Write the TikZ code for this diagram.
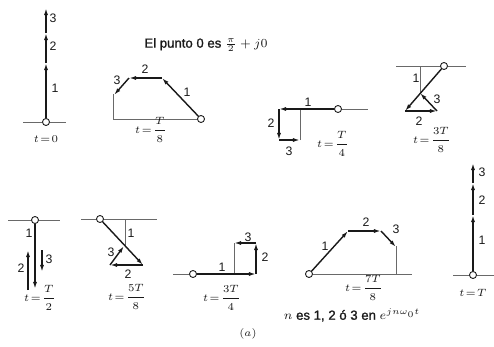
\documentclass[tikz,border=0pt]{standalone}
\usepackage{amsmath}
\usepackage{fontspec}
\setmainfont{Liberation Sans}
\newfontfamily\notefont[FakeBold=1.2]{Liberation Sans}
\usetikzlibrary{arrows.meta,positioning}
\definecolor{inkDark}{RGB}{25,25,25}
\definecolor{axisGray}{RGB}{105,105,105}
\tikzset{
  phasor/.style={-{Latex[length=4pt,width=2.3pt]}, line width=0.8pt, color=inkDark},
  axisline/.style={line width=0.5pt, color=axisGray},
  origin/.style={circle, draw=inkDark, fill=white, line width=0.5pt,
    minimum size=4pt, inner sep=0pt},
  numlabel/.style={font=\fontsize{7}{8}\selectfont, inner sep=0.5pt, text=inkDark},
  timelabel/.style={font=\fontsize{6}{7}\selectfont, inner sep=0.5pt, text=inkDark},
  notelabel/.style={font=\notefont\fontsize{7.5}{9}\selectfont, inner sep=0.5pt, text=inkDark}
}

\begin{document}
\begin{tikzpicture}[x=0.02cm, y=-0.02cm]
  \useasboundingbox (0,0) rectangle (494,346);

  % t = 0
  \node[origin] (o0) at (46,122) {};
  \coordinate (l0) at (23,122);  \coordinate (r0) at (66,122);
  \coordinate (p0a) at (46,63);  \coordinate (p0b) at (46,33);
  \coordinate (p0c) at (46,8);
  \draw[axisline] (l0) -- (o0) -- (r0);
  \draw[phasor] (o0) -- (p0a);
  \draw[phasor] (p0a) -- (p0b);
  \draw[phasor] (p0b) -- (p0c);
  \node[numlabel] (n0a) at (55,88) {1};
  \node[numlabel] (n0b) at (53,46) {2};
  \node[numlabel] (n0c) at (53,18) {3};
  \node[timelabel, below=5pt of o0] (t0) {$t\!=\!0$};

  % title
  \node[notelabel] (title) at (206,45) {El punto 0 es $\frac{\pi}{2}+j0$};

  % t = T/8
  \node[origin] (o1) at (201,119) {};
  \coordinate (l1) at (113,119); \coordinate (v1) at (113,94);
  \coordinate (p1a) at (162,78); \coordinate (p1b) at (129,78);
  \coordinate (p1c) at (114,95);
  \draw[axisline] (v1) -- (l1) -- (o1);
  \draw[phasor] (o1) -- (p1a);
  \draw[phasor] (p1a) -- (p1b);
  \draw[phasor] (p1b) -- (p1c);
  \node[numlabel] (n1a) at (187,92) {1};
  \node[numlabel] (n1b) at (145,69) {2};
  \node[numlabel] (n1c) at (117,80) {3};
  \node[timelabel] (t1) at (151,130) {$t\!=\!\dfrac{T}{8}$};

  % t = T/4
  \node[origin] (o2) at (338,109) {};
  \coordinate (r2) at (368,109); \coordinate (m2) at (300,109);
  \coordinate (v2) at (300,140);
  \coordinate (p2a) at (279,109); \coordinate (p2b) at (279,140);
  \coordinate (p2c) at (300,140);
  \draw[axisline] (v2) -- (m2) -- (o2) -- (r2);
  \draw[phasor] (o2) -- (p2a);
  \draw[phasor] (p2a) -- (p2b);
  \draw[phasor] (p2b) -- (p2c);
  \node[numlabel] (n2a) at (308,102) {1};
  \node[numlabel] (n2b) at (271,123) {2};
  \node[numlabel] (n2c) at (289,151) {3};
  \node[timelabel] (t2) at (333,144) {$t\!=\!\dfrac{T}{4}$};

  % t = 3T/8
  \node[origin] (o3) at (444,66) {};
  \coordinate (l3) at (396,66);  \coordinate (r3) at (466,66);
  \coordinate (m3) at (420,66);  \coordinate (v3) at (420,93);
  \coordinate (p3a) at (405,111); \coordinate (p3b) at (437,111);
  \coordinate (p3c) at (420,93);
  \draw[axisline] (l3) -- (o3) -- (r3);
  \draw[axisline] (m3) -- (v3);
  \draw[phasor] (o3) -- (p3a);
  \draw[phasor] (p3a) -- (p3b);
  \draw[phasor] (p3b) -- (p3c);
  \node[numlabel] (n3a) at (416,78) {1};
  \node[numlabel] (n3b) at (419,121) {2};
  \node[numlabel] (n3c) at (437,99) {3};
  \node[timelabel] (t3) at (432,140) {$t\!=\!\dfrac{3T}{8}$};

  % t = T/2
  \node[origin] (o4) at (35,220) {};
  \coordinate (l4) at (8,220);   \coordinate (r4) at (60,220);
  \coordinate (p4a) at (35,289);
  \coordinate (q4a) at (28,290); \coordinate (q4b) at (28,250);
  \coordinate (q4c) at (42,250); \coordinate (q4d) at (42,272);
  \draw[axisline] (l4) -- (o4) -- (r4);
  \draw[phasor] (o4) -- (p4a);
  \draw[phasor] (q4a) -- (q4b);
  \draw[phasor] (q4c) -- (q4d);
  \node[numlabel] (n4a) at (29,233) {1};
  \node[numlabel] (n4b) at (21,268) {2};
  \node[numlabel] (n4c) at (49,259) {3};
  \node[timelabel] (t4) at (40,298) {$t\!=\!\dfrac{T}{2}$};

  % t = 5T/8
  \node[origin] (o5) at (100,219) {};
  \coordinate (l5) at (81,219);  \coordinate (r5) at (157,219);
  \coordinate (m5) at (125,219); \coordinate (v5) at (125,246);
  \coordinate (p5a) at (143,265); \coordinate (p5b) at (110,265);
  \coordinate (p5c) at (124,246);
  \draw[axisline] (l5) -- (o5) -- (r5);
  \draw[axisline] (m5) -- (v5);
  \draw[phasor] (o5) -- (p5a);
  \draw[phasor] (p5a) -- (p5b);
  \draw[phasor] (p5b) -- (p5c);
  \node[numlabel] (n5a) at (131,233) {1};
  \node[numlabel] (n5b) at (128,274) {2};
  \node[numlabel] (n5c) at (111,252) {3};
  \node[timelabel] (t5) at (127,297) {$t\!=\!\dfrac{5T}{8}$};

  % t = 3T/4
  \node[origin] (o6) at (193,274) {};
  \coordinate (l6) at (173,274); \coordinate (m6) at (234,274);
  \coordinate (v6) at (234,243);
  \coordinate (p6a) at (256,274); \coordinate (p6b) at (256,243);
  \coordinate (p6c) at (234,243);
  \draw[axisline] (l6) -- (o6) -- (m6) -- (v6);
  \draw[phasor] (o6) -- (p6a);
  \draw[phasor] (p6a) -- (p6b);
  \draw[phasor] (p6b) -- (p6c);
  \node[numlabel] (n6a) at (222,267) {1};
  \node[numlabel] (n6b) at (265,257) {2};
  \node[numlabel] (n6c) at (248,237) {3};
  \node[timelabel] (t6) at (222,298) {$t\!=\!\dfrac{3T}{4}$};

  % t = 7T/8
  \node[origin] (o7) at (309,274) {};
  \coordinate (r7) at (412,274); \coordinate (m7) at (396,274);
  \coordinate (v7) at (396,246);
  \coordinate (p7a) at (348,231); \coordinate (p7b) at (381,231);
  \coordinate (p7c) at (396,247);
  \draw[axisline] (o7) -- (r7);
  \draw[axisline] (m7) -- (v7);
  \draw[phasor] (o7) -- (p7a);
  \draw[phasor] (p7a) -- (p7b);
  \draw[phasor] (p7b) -- (p7c);
  \node[numlabel] (n7a) at (325,246) {1};
  \node[numlabel] (n7b) at (366,222) {2};
  \node[numlabel] (n7c) at (396,229) {3};
  \node[timelabel] (t7) at (364,288) {$t\!=\!\dfrac{7T}{8}$};

  % t = T
  \node[origin] (o8) at (473,275) {};
  \coordinate (l8) at (453,275); \coordinate (r8) at (494,275);
  \coordinate (p8a) at (473,215); \coordinate (p8b) at (473,183);
  \coordinate (p8c) at (473,163);
  \draw[axisline] (l8) -- (o8) -- (r8);
  \draw[phasor] (o8) -- (p8a);
  \draw[phasor] (p8a) -- (p8b);
  \draw[phasor] (p8b) -- (p8c);
  \node[numlabel] (n8a) at (482,240) {1};
  \node[numlabel] (n8b) at (482,200) {2};
  \node[numlabel] (n8c) at (482,172) {3};
  \node[timelabel, below=5pt of o8] (t8) {$t\!=\!T$};

  % notes
  \node[notelabel] (note) at (352,315) {$n$ es 1, 2 ó 3 en $e^{jn\omega_0 t}$};
  \node[timelabel] (cap) at (248,334) {$(a)$};
\end{tikzpicture}
\end{document}
